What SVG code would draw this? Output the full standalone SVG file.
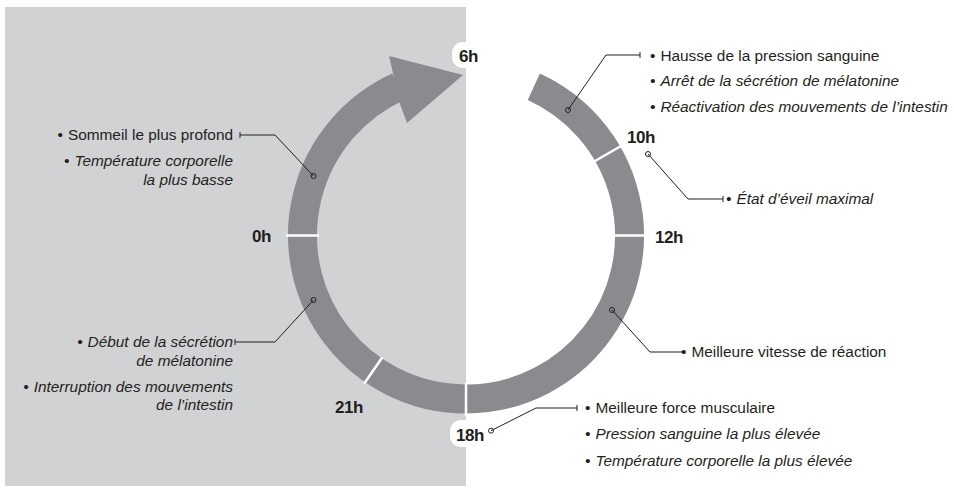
<svg xmlns="http://www.w3.org/2000/svg" width="954" height="488" viewBox="0 0 954 488">
<style>
.ring{fill:none;stroke:#8a8b8e;stroke-width:29}
.div{stroke:#ffffff;stroke-width:2.5}
.hr{font-family:"Liberation Sans",Arial,sans-serif;font-weight:bold;font-size:17px;fill:#231f20;letter-spacing:-0.5px}
.t{font-family:"Liberation Sans",Arial,sans-serif;font-size:15.4px;fill:#231f20}
.i{font-style:italic}
.c{fill:none;stroke:#231f20;stroke-width:1}
.dot{fill:none;stroke:#231f20;stroke-width:1}
</style>
<rect x="0" y="0" width="954" height="488" fill="#ffffff"/>
<rect x="5" y="7" width="461" height="479" fill="#d1d2d4"/>

<g id="ring">
<path class="ring" d="M 533.8 86.7 A 163.5 163.5 0 1 1 398.2 86.7"/>
<polygon points="389,56 463,75 407,123 400,104" fill="#8a8b8e"/>
<line class="div" x1="594.2" y1="161.5" x2="621.9" y2="145.5"/>
<line class="div" x1="613" y1="235.5" x2="646" y2="235.5"/>
<line class="div" x1="466" y1="383" x2="466" y2="416"/>
<line class="div" x1="382.2" y1="357.5" x2="364.1" y2="383.8"/>
<line class="div" x1="319" y1="235.5" x2="286" y2="235.5"/>
</g>

<g id="hours">
<g id="h6"><rect x="452" y="42" width="42" height="26" rx="11" fill="#ffffff"/><text class="hr" x="459" y="62">6h</text></g>
<g id="h0"><text class="hr" x="252" y="242">0h</text></g>
<g id="h10"><text class="hr" x="627" y="143">10h</text></g>
<g id="h12"><text class="hr" x="655" y="243">12h</text></g>
<g id="h21"><text class="hr" x="335" y="413">21h</text></g>
<g id="h18"><rect x="450" y="420" width="42" height="27" rx="11" fill="#ffffff"/><text class="hr" x="456" y="441">18h</text></g>
</g>

<g id="connectors">
<polyline class="c" points="240,135 275,135 313.5,176"/><line class="c" x1="240" y1="132" x2="240" y2="138"/><circle class="dot" cx="313.5" cy="176" r="2.5"/>
<polyline class="c" points="235,342 275,342 313.5,300"/><line class="c" x1="235" y1="339" x2="235" y2="345"/><circle class="dot" cx="313.5" cy="300" r="2.5"/>
<polyline class="c" points="640,55 606,55 568,110"/><line class="c" x1="640" y1="52" x2="640" y2="58"/><circle class="dot" cx="568" cy="110" r="2.5"/>
<polyline class="c" points="648,154 688,199 723,199"/><line class="c" x1="723" y1="196" x2="723" y2="202"/><circle class="dot" cx="648" cy="154" r="2.5" fill="#fff"/>
<polyline class="c" points="612,310 650,352 683,352"/><circle class="dot" cx="612" cy="310" r="2.5"/>
<polyline class="c" points="577,408 536,408 491,430.7"/><line class="c" x1="577" y1="405" x2="577" y2="411"/><circle class="dot" cx="491" cy="430.7" r="2.5"/>
</g>

<g id="note-sleep">
<text class="t" x="233" y="140" text-anchor="end">•<tspan dx="5">Sommeil le plus profond</tspan></text>
<text class="t i" x="233" y="166" text-anchor="end">•<tspan dx="5">Température corporelle</tspan></text>
<text class="t i" x="233" y="185" text-anchor="end">la plus basse</text>
</g>

<g id="note-evening">
<text class="t i" x="233" y="347" text-anchor="end">•<tspan dx="5">Début de la sécrétion</tspan></text>
<text class="t i" x="233" y="366" text-anchor="end">de mélatonine</text>
<text class="t i" x="233" y="391.5" text-anchor="end">•<tspan dx="5">Interruption des mouvements</tspan></text>
<text class="t i" x="233" y="409.5" text-anchor="end">de l’intestin</text>
</g>

<g id="note-morning">
<text class="t" x="650" y="60.5">•<tspan dx="5">Hausse de la pression sanguine</tspan></text>
<text class="t i" x="650" y="86">•<tspan dx="5">Arrêt de la sécrétion de mélatonine</tspan></text>
<text class="t i" x="650" y="111.5">•<tspan dx="5">Réactivation des mouvements de l’intestin</tspan></text>
</g>

<g id="note-10h">
<text class="t i" x="726" y="204">•<tspan dx="5">État d’éveil maximal</tspan></text>
</g>

<g id="note-afternoon">
<text class="t" x="681" y="356.5">•<tspan dx="5">Meilleure vitesse de réaction</tspan></text>
</g>

<g id="note-18h">
<text class="t" x="585" y="412.5">•<tspan dx="5">Meilleure force musculaire</tspan></text>
<text class="t i" x="585" y="439">•<tspan dx="5">Pression sanguine la plus élevée</tspan></text>
<text class="t i" x="585" y="465.5">•<tspan dx="5">Température corporelle la plus élevée</tspan></text>
</g>
</svg>
